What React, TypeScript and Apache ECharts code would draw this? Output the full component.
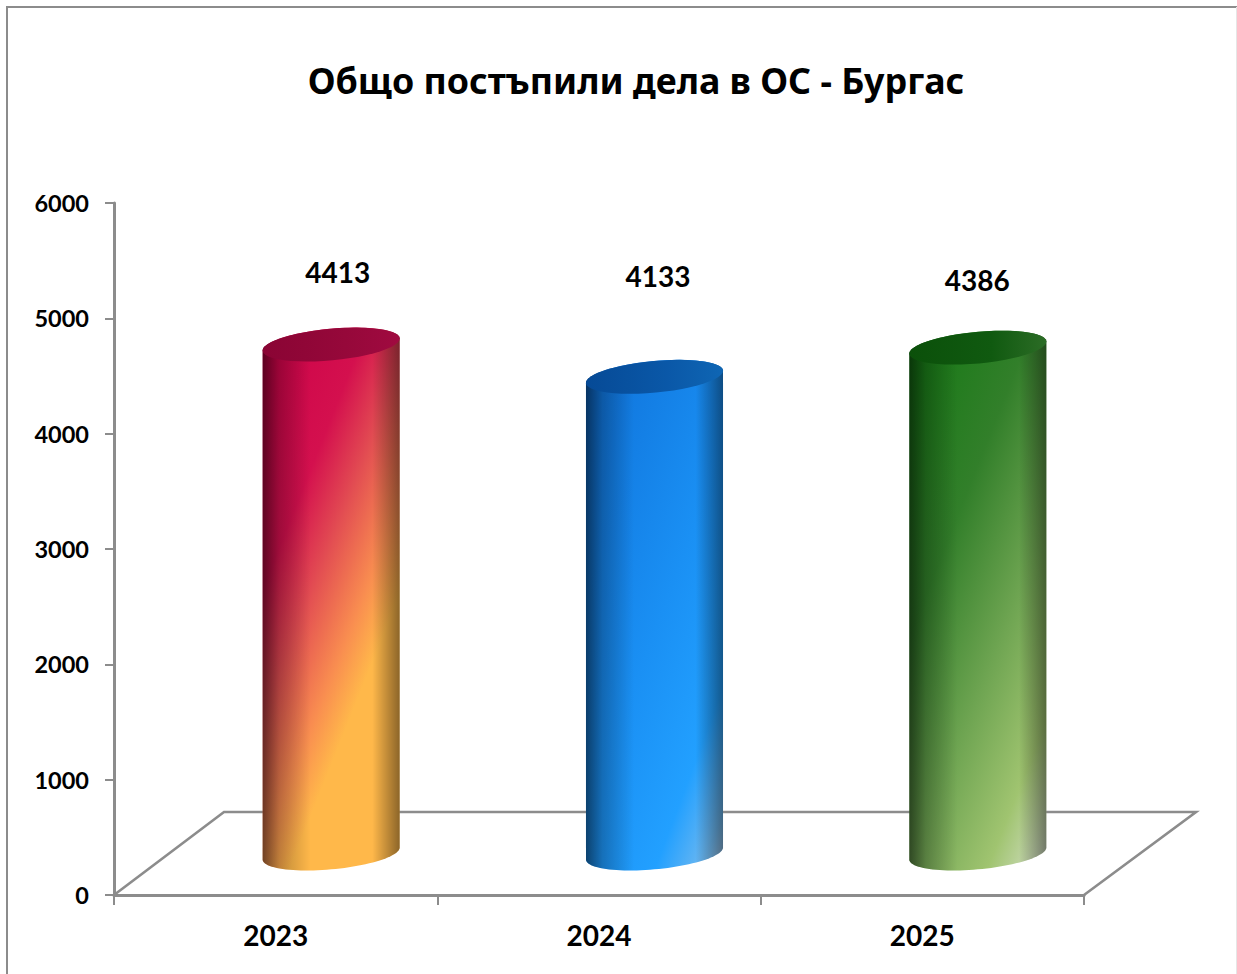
import React, { useEffect, useRef } from "react";
import * as echarts from "echarts";

const TITLE = "Общо постъпили дела в ОС - Бургас";
const categories = ["2023", "2024", "2025"];
const values = [4413, 4133, 4386];
const yTicks = { min: 0, max: 6000, interval: 1000 };

const AXIS = "#8c8c8c";
const LABEL_FONT = "Lato, 'Noto Sans', sans-serif";
const TITLE_FONT = "'Noto Sans', sans-serif";

// depth of the floor, px
const DEPTH_X = 110;
const DEPTH_Y = 83;
// tilted ellipse of the cylinder caps
const ELL_A = 68.8;
const ELL_B = 15.8;
const ELL_ROT = (-5.3 * Math.PI) / 180;
const ARC_STEPS = 48;
const labelPos = [
  { dx: 62, y: 272 },
  { dx: 59, y: 276 },
  { dx: 55, y: 280 },
];

const bodyStops = [
  [[0, "#cc0048"], [0.3, "#d4104e"], [0.44, "#e24c52"], [0.6, "#f98e50"], [0.7, "#ffb84a"], [1, "#ffb84a"]],
  [[0, "#0e70d8"], [0.5, "#1a90f4"], [0.76, "#22a0ff"], [0.9, "#6eb8f0"], [1, "#c8d4e8"]],
  [[0, "#127812"], [0.35, "#327f2a"], [0.62, "#6fa552"], [0.84, "#a0c470"], [1, "#d4dfc6"]],
];
const capStops = [
  [[0, "#8a0434"], [0.6, "#96083a"], [1, "#a00a40"]],
  [[0, "#064a96"], [0.6, "#0a58a8"], [1, "#0f66b4"]],
  [[0, "#0b500a"], [0.6, "#105a10"], [1, "#2c6c26"]],
];
const shadeStops = [
  [0, "rgba(0,0,0,0.55)"],
  [0.12, "rgba(0,0,0,0.25)"],
  [0.35, "rgba(0,0,0,0)"],
  [0.8, "rgba(0,0,0,0)"],
  [1, "rgba(0,0,0,0.45)"],
];

const toStops = (s: any[]) => s.map(([offset, color]) => ({ offset, color }));

// point of the tilted ellipse at parameter t
const ell = (cx: number, cy: number, t: number) => {
  const ex = ELL_A * Math.cos(t);
  const ey = ELL_B * Math.sin(t);
  return [
    cx + ex * Math.cos(ELL_ROT) - ey * Math.sin(ELL_ROT),
    cy + ex * Math.sin(ELL_ROT) + ey * Math.cos(ELL_ROT),
  ];
};
// parameter where the ellipse has its vertical tangent (rightmost point)
const T_RIGHT = Math.atan2(-ELL_B * Math.sin(ELL_ROT), ELL_A * Math.cos(ELL_ROT));

const arcPoints = (cx: number, cy: number, from: number, to: number) => {
  const pts: number[][] = [];
  for (let k = 0; k <= ARC_STEPS; k++) {
    pts.push(ell(cx, cy, from + ((to - from) * k) / ARC_STEPS));
  }
  return pts;
};

export default function App() {
  const ref = useRef<HTMLDivElement>(null);
  useEffect(() => {
    document.body.style.margin = "0";
    const chart = echarts.init(ref.current!, null, { renderer: "svg" });
    const renderFloor = (params: any) => {
      const g = params.coordSys;
      const x0 = g.x, x1 = g.x + g.width, y0 = g.y + g.height;
      return {
        type: "polyline",
        silent: true,
        shape: {
          points: [
            [x0, y0],
            [x0 + DEPTH_X, y0 - DEPTH_Y],
            [x1 + DEPTH_X + 2, y0 - DEPTH_Y],
            [x1, y0],
          ],
        },
        style: { fill: "none", stroke: AXIS, lineWidth: 2.6 },
      };
    };
    const renderBar = (params: any, api: any) => {
      const i = params.dataIndex;
      const v = api.value(1);
      const base = api.coord([api.value(0), 0]);
      const top = api.coord([api.value(0), v]);
      const cx = base[0] + 55.5;
      const by = base[1] - DEPTH_Y / 2;
      const ty = top[1] - DEPTH_Y / 2;
      // bottom half at the base (right -> bottom -> left), top half at the top (left -> top -> right)
      const lowerBase = arcPoints(cx, by, T_RIGHT, T_RIGHT + Math.PI);
      const upperTop = arcPoints(cx, ty, T_RIGHT + Math.PI, T_RIGHT + 2 * Math.PI);
      const capPts = arcPoints(cx, ty, 0, 2 * Math.PI);
      const left = cx - ELL_A;
      const bodyH = by - ty + 2 * ELL_B;
      const gx = 300;
      const gy = (120 * bodyH) / 540;
      return {
        type: "group",
        children: [
          {
            type: "polygon",
            shape: { points: [...lowerBase, ...upperTop] },
            style: {
              fill: new echarts.graphic.LinearGradient(
                left, ty - ELL_B, left + gx, ty - ELL_B + gy, toStops(bodyStops[i]), true),
            },
          },
          {
            type: "polygon",
            shape: { points: [...lowerBase, ...upperTop] },
            style: { fill: new echarts.graphic.LinearGradient(0, 0, 1, 0, toStops(shadeStops)) },
          },
          {
            type: "polygon",
            shape: { points: capPts },
            style: { fill: new echarts.graphic.LinearGradient(0, 0, 1, 0, toStops(capStops[i])) },
          },
          {
            type: "text",
            style: {
              text: String(v),
              x: base[0] + labelPos[i].dx,
              y: labelPos[i].y,
              align: "center",
              verticalAlign: "middle",
              fontFamily: LABEL_FONT,
              fontWeight: "bold",
              fontSize: 28,
              fill: "#000",
            },
          },
        ],
      };
    };
    chart.setOption({
      animation: false,
      backgroundColor: "#fff",
      title: {
        text: TITLE,
        left: 631,
        top: 57,
        textAlign: "center",
        textStyle: { fontFamily: TITLE_FONT, fontWeight: "bold", fontSize: 35.8, color: "#000" },
      },
      grid: { left: 114, top: 203, width: 970, height: 692, containLabel: false },
      xAxis: {
        type: "category",
        data: categories,
        axisLine: { lineStyle: { color: AXIS, width: 3 } },
        axisTick: { show: true, length: 10, lineStyle: { color: AXIS, width: 2 } },
        axisLabel: {
          color: "#000",
          fontFamily: LABEL_FONT,
          fontWeight: "bold",
          fontSize: 28,
          margin: 26,
        },
        splitLine: { show: false },
      },
      yAxis: {
        type: "value",
        min: yTicks.min,
        max: yTicks.max,
        interval: yTicks.interval,
        axisLine: { show: true, lineStyle: { color: AXIS, width: 3 } },
        axisTick: { show: true, length: 9, lineStyle: { color: AXIS, width: 2 } },
        axisLabel: {
          color: "#000",
          fontFamily: LABEL_FONT,
          fontWeight: "bold",
          fontSize: 23.5,
          margin: 25,
          formatter: (v: number) => String(v),
        },
        splitLine: { show: false },
      },
      graphic: [
        {
          type: "polyline",
          silent: true,
          shape: { points: [[7, 974], [7, 7], [1237, 7]] },
          style: { fill: "none", stroke: "#8c8c8c", lineWidth: 2 },
        },
        {
          type: "line",
          silent: true,
          shape: { x1: 1236.5, y1: 7, x2: 1236.5, y2: 974 },
          style: { stroke: "#e6e6e6", lineWidth: 1 },
        },
      ],
      series: [
        {
          type: "custom",
          coordinateSystem: "cartesian2d",
          renderItem: renderFloor,
          data: [[0, 0]],
          silent: true,
          z: 1,
        },
        {
          type: "custom",
          coordinateSystem: "cartesian2d",
          renderItem: renderBar,
          encode: { x: 0, y: 1 },
          data: values.map((v, i) => [i, v]),
          clip: false,
          z: 3,
        },
      ],
    });
    return () => chart.dispose();
  }, []);
  return (
    <div
      ref={ref}
      style={{ position: "absolute", left: 0, top: 0, width: 1237, height: 974 }}
    />
  );
}
